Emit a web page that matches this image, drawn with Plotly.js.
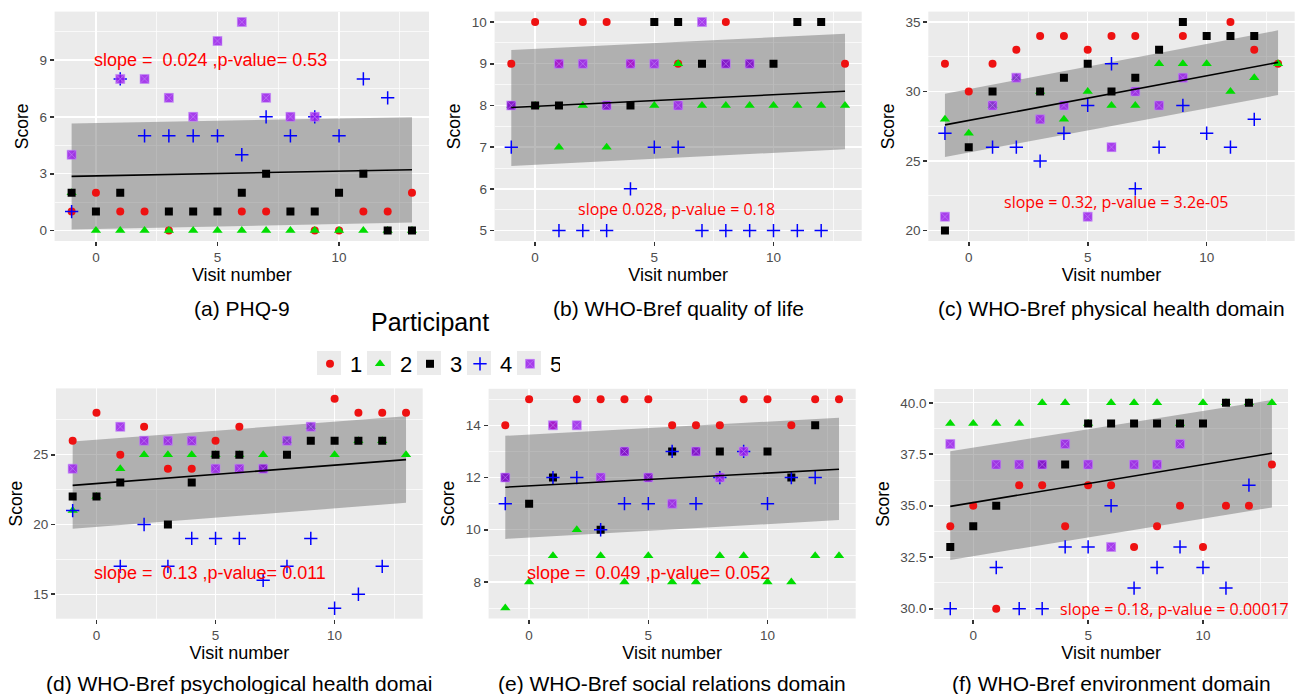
<!DOCTYPE html>
<html><head><meta charset="utf-8">
<script src="https://cdn.plot.ly/plotly-3.0.1.min.js"></script>
<style>html,body{margin:0;padding:0;background:#fff}#chart{width:1300px;height:694px}</style>
</head><body><div id="chart"></div>
<script>
// ---------- DATA ----------
const visits = [-1,0,1,2,3,4,5,6,7,8,9,10,11,12,13];
const participants = ['1','2','3','4','5'];
const fitX = [-1, 13];

// (a) PHQ-9
const phq_p1 = [1,2,1,1,0,null,null,1,1,null,0,0,1,1,2];
const phq_p2 = [2,0,0,0,0,0,0,0,0,0,0,0,0,0,0];
const phq_p3 = [2,1,2,null,1,1,1,2,3,1,1,2,3,0,0];
const phq_p4 = [1,null,8,5,5,5,5,4,6,5,6,5,8,7,null];
const phq_p5 = [4,null,8,8,7,6,10,11,7,6,6,null,null,null,null];
const phq_fit = [2.86, 3.21];
const phq_lo = [0.05, 0.42];
const phq_hi = [5.65, 5.98];

// (b) WHO-Bref quality of life
const qol_p1 = [9,10,9,10,10,9,null,9,null,10,null,null,null,null,9];
const qol_p2 = [8,8,7,8,7,null,8,9,8,8,8,8,8,8,8];
const qol_p3 = [8,8,8,null,8,8,10,10,9,9,9,9,10,10,null];
const qol_p4 = [7,null,5,5,5,6,7,7,5,5,5,5,5,5,null];
const qol_p5 = [8,null,9,9,8,9,9,8,10,9,9,null,null,null,null];
const qol_fit = [7.95, 8.34];
const qol_lo = [6.55, 6.95];
const qol_hi = [9.33, 9.72];

// (c) WHO-Bref physical health domain
const phy_p1 = [32,30,32,33,34,34,33,34,34,null,34,null,35,33,32];
const phy_p2 = [28,27,29,31,30,28,30,29,29,32,32,32,30,31,32];
const phy_p3 = [20,26,30,null,30,31,32,30,31,33,35,34,34,34,null];
const phy_p4 = [27,null,26,26,25,27,29,32,23,26,29,27,26,28,null];
const phy_p5 = [21,null,29,31,28,29,21,26,30,29,31,null,null,null,null];
const phy_fit = [27.6, 32.1];
const phy_lo = [25.3, 29.75];
const phy_hi = [29.85, 34.4];

// (d) WHO-Bref psychological health domain
const psy_p1 = [26,28,25,27,24,24,26,27,null,null,null,29,28,28,28];
const psy_p2 = [21,22,24,25,25,25,25,25,25,26,27,25,26,26,25];
const psy_p3 = [22,22,23,null,20,23,25,25,24,25,26,26,26,26,null];
const psy_p4 = [21,null,17,20,17,19,19,19,16,17,19,14,15,17,null];
const psy_p5 = [24,null,27,26,26,26,24,24,24,26,27,null,null,null,null];
const psy_fit = [22.8, 24.65];
const psy_lo = [19.7, 21.55];
const psy_hi = [25.95, 27.75];

// (e) WHO-Bref social relations domain
const soc_p1 = [14,15,14,15,15,15,15,14,14,14,15,15,14,15,15];
const soc_p2 = [7,8,9,10,9,8,9,8,8,9,9,8,8,9,9];
const soc_p3 = [12,11,12,null,10,13,12,13,13,13,null,13,12,14,null];
const soc_p4 = [11,null,12,12,10,11,11,13,11,12,13,11,12,12,null];
const soc_p5 = [12,null,14,14,12,13,12,11,13,12,13,null,null,null,null];
const soc_fit = [11.63, 12.32];
const soc_lo = [9.65, 10.37];
const soc_hi = [13.6, 14.29];

// (f) WHO-Bref environment domain
const env_p1 = [34,35,30,36,36,34,36,36,33,34,35,33,35,35,37];
const env_p2 = [39,39,39,39,40,40,39,40,40,40,39,40,40,40,40];
const env_p3 = [33,34,35,null,37,37,39,39,39,39,39,39,40,40,null];
const env_p4 = [30,null,32,30,30,33,33,35,31,32,33,32,31,36,null];
const env_p5 = [38,null,37,37,37,38,37,33,37,37,38,null,null,null,null];
const env_fit = [34.97, 37.55];
const env_lo = [32.37, 34.92];
const env_hi = [37.65, 40.13];

const captions = ['(a) PHQ-9','(b) WHO-Bref quality of life','(c) WHO-Bref physical health domain',
  '(d) WHO-Bref psychological health domai','(e) WHO-Bref social relations domain','(f) WHO-Bref environment domain'];
const statTexts = ['slope = \u00a00.024 ,p-value= 0.53','slope 0.028, p-value = 0.18','slope = 0.32, p-value = 3.2e-05',
  'slope = \u00a00.13 ,p-value= 0.011','slope = \u00a00.049 ,p-value= 0.052','slope = 0.18, p-value = 0.00017'];
const legendTitle = 'Participant';

// ---------- STYLE / LAYOUT ----------
const W = 1300, H = 694;
const SANS = 'Liberation Sans, Arial, sans-serif';
const ALT = 'Open Sans, sans-serif';
const styles = [
  {symbol:'circle', size:8, color:'#ee1111'},
  {symbol:'triangle-up', size:9, color:'#00dd00'},
  {symbol:'square', size:8, color:'#000000'},
  {symbol:'cross-thin', size:9.5, color:'#0000ff', line:{color:'#0000ff', width:1.5}},
  {symbol:'square-x', size:9, color:'rgba(155,30,235,0.85)', line:{color:'rgba(195,140,250,0.9)', width:0.6}}
];

const panels = [
  {series:[phq_p1,phq_p2,phq_p3,phq_p4,phq_p5], fit:phq_fit, lo:phq_lo, hi:phq_hi,
   yr:[-0.55,11.55], dtick:3, px:[54.6,429], py:[11.6,241], ann:{x:-0.18,y:9,xa:'left',font:SANS,size:18}},
  {series:[qol_p1,qol_p2,qol_p3,qol_p4,qol_p5], fit:qol_fit, lo:qol_lo, hi:qol_hi,
   yr:[4.75,10.25], dtick:1, px:[494.6,861.7], py:[11.6,241], ann:{x:5.95,y:5.51,xa:'center',font:ALT,size:16}},
  {series:[phy_p1,phy_p2,phy_p3,phy_p4,phy_p5], fit:phy_fit, lo:phy_lo, hi:phy_hi,
   yr:[19.25,35.75], dtick:5, px:[928.3,1294.7], py:[11.6,241], ann:{x:6.2,y:22.08,xa:'center',font:ALT,size:16}},
  {series:[psy_p1,psy_p2,psy_p3,psy_p4,psy_p5], fit:psy_fit, lo:psy_lo, hi:psy_hi,
   yr:[13.25,29.75], dtick:5, px:[56,422.7], py:[388.4,618.7], ann:{x:-0.17,y:16.5,xa:'left',font:SANS,size:18}},
  {series:[soc_p1,soc_p2,soc_p3,soc_p4,soc_p5], fit:soc_fit, lo:soc_lo, hi:soc_hi,
   yr:[6.6,15.4], dtick:2, px:[488.6,855.7], py:[388.8,618.5], ann:{x:-0.16,y:8.33,xa:'left',font:SANS,size:18}},
  {series:[env_p1,env_p2,env_p3,env_p4,env_p5], fit:env_fit, lo:env_lo, hi:env_hi,
   yr:[29.5,40.67], dtick:2.5, px:[934.2,1288], py:[389,619], ann:{x:8.75,y:30,xa:'center',font:ALT,size:16}, fmt:'.1f'}
];

const data = [];
const layout = {
  width: W, height: H,
  margin: {l:0, r:0, t:0, b:0},
  paper_bgcolor: '#ffffff',
  plot_bgcolor: '#ebebeb',
  font: {family: SANS, color: '#000'},
  showlegend: true,
  legend: {
    orientation: 'h', x: 435/W, xanchor: 'center', y: 1 - 343/H, yanchor: 'top',
    bgcolor: 'rgba(0,0,0,0)', entrywidth: 5, itemwidth: 30,
    font: {family: SANS, size: 22, color: '#000'}
  },
  annotations: [{xref: 'paper', yref: 'paper', x: 430/W, y: 1 - 322/H, xanchor: 'center', yanchor: 'middle',
    text: legendTitle, showarrow: false, font: {family: SANS, size: 25, color: '#000'}}],
  shapes: []
};

panels.forEach((p, i) => {
  const n = i + 1;
  const xa = 'x' + (n === 1 ? '' : n), ya = 'y' + (n === 1 ? '' : n);
  const xk = 'xaxis' + (n === 1 ? '' : n), yk = 'yaxis' + (n === 1 ? '' : n);
  // confidence band
  data.push({x: [fitX[0], fitX[1], fitX[1], fitX[0]], y: [p.lo[0], p.lo[1], p.hi[1], p.hi[0]],
    xaxis: xa, yaxis: ya, type: 'scatter', mode: 'lines', fill: 'toself',
    fillcolor: 'rgba(105,105,105,0.45)', line: {width: 0}, hoverinfo: 'skip', showlegend: false});
  // points
  p.series.forEach((ys, k) => {
    const s = styles[k];
    data.push({x: visits, y: ys, xaxis: xa, yaxis: ya, type: 'scatter', mode: 'markers',
      name: participants[k], legendgroup: participants[k], showlegend: i === 0,
      marker: {symbol: s.symbol, size: s.size, color: s.color, line: s.line || {width: 0}}});
  });
  // fitted line
  data.push({x: fitX, y: p.fit, xaxis: xa, yaxis: ya, type: 'scatter', mode: 'lines',
    line: {color: '#000', width: 1.6}, hoverinfo: 'skip', showlegend: false});

  layout[xk] = {
    domain: [p.px[0]/W, p.px[1]/W], anchor: ya, range: [-1.7, 13.7],
    tick0: 0, dtick: 5, ticks: 'outside', ticklen: 4, tickwidth: 1.6, tickcolor: '#333',
    tickfont: {family: SANS, size: 13.5, color: '#4d4d4d'},
    showgrid: true, gridcolor: '#ffffff', gridwidth: 1.4, zeroline: false, showline: false,
    minor: {dtick: 2.5, showgrid: true, gridcolor: '#ffffff', gridwidth: 0.7},
    title: {text: 'Visit number', font: {family: SANS, size: 18, color: '#000'}, standoff: 3}
  };
  layout[yk] = {
    domain: [1 - p.py[1]/H, 1 - p.py[0]/H], anchor: xa, range: p.yr,
    tick0: 0, dtick: p.dtick, tickformat: p.fmt || '', ticks: 'outside', ticklen: 4, tickwidth: 1.6, tickcolor: '#333',
    tickfont: {family: SANS, size: 13.5, color: '#4d4d4d'},
    showgrid: true, gridcolor: '#ffffff', gridwidth: 1.4, zeroline: false, showline: false,
    minor: {dtick: p.dtick/2, showgrid: true, gridcolor: '#ffffff', gridwidth: 0.7},
    title: {text: 'Score', font: {family: SANS, size: 17.5, color: '#000'}, standoff: 6}
  };
  // stat annotation
  layout.annotations.push({xref: xa, yref: ya, x: p.ann.x, y: p.ann.y, xanchor: p.ann.xa, yanchor: 'middle',
    text: statTexts[i], showarrow: false, font: {family: p.ann.font, size: p.ann.size, color: '#ff0000'}});
  // caption
  const capY = i < 3 ? 308 : 683;
  layout.annotations.push({xref: xa + ' domain', yref: 'paper', x: 0.5, y: 1 - capY/H, xanchor: 'center', yanchor: 'middle',
    text: captions[i], showarrow: false, font: {family: SANS, size: 21, color: '#000'}});
});

// grey legend key backgrounds
[329, 379, 429, 479, 529].forEach(cx => {
  layout.shapes.push({type: 'rect', xref: 'paper', yref: 'paper', layer: 'below',
    x0: (cx - 12)/W, x1: (cx + 12)/W, y0: 1 - 375/H, y1: 1 - 351/H,
    fillcolor: '#ebebeb', line: {width: 0}});
});

Plotly.newPlot('chart', data, layout, {staticPlot: true, displayModeBar: false});
</script>
</body></html>
